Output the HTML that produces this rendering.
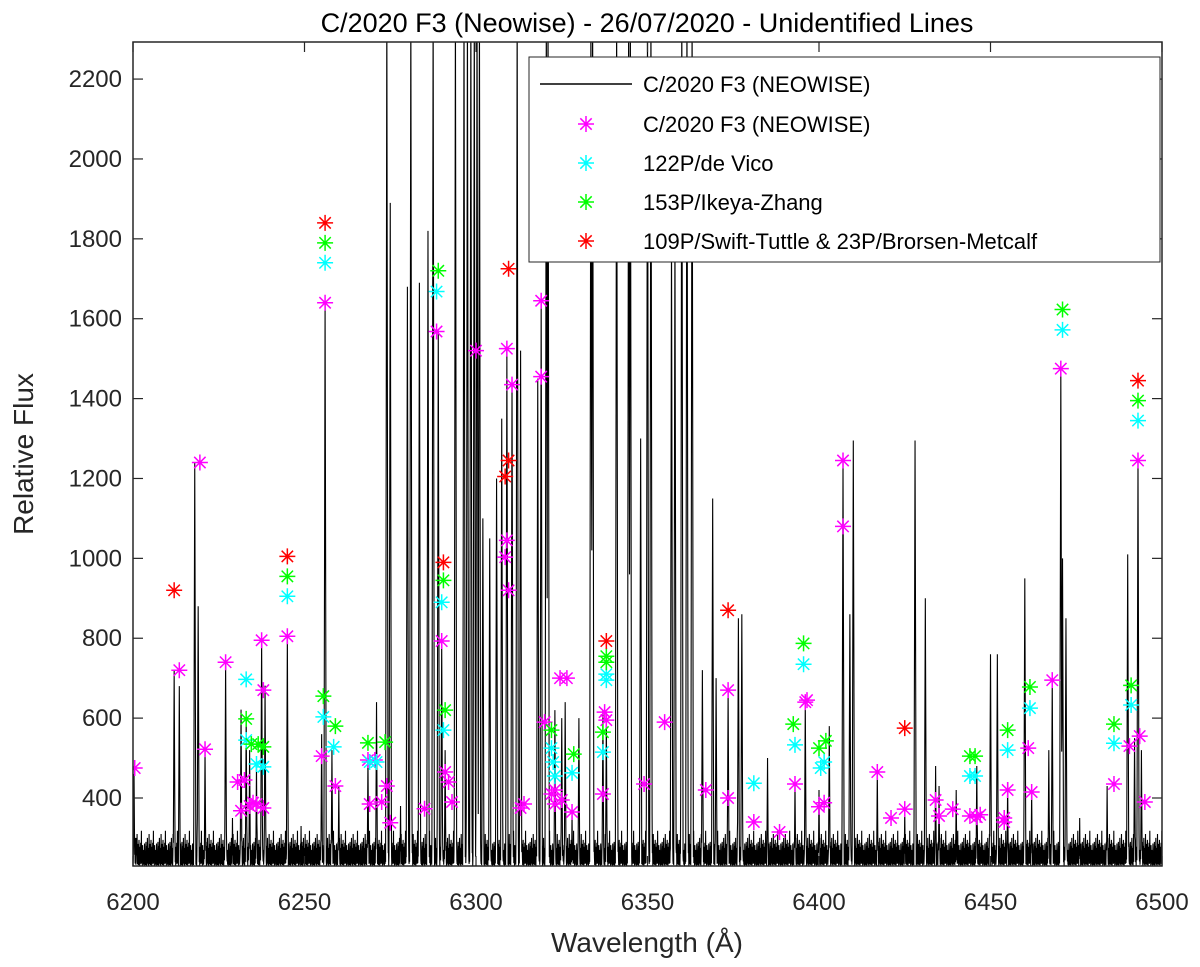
<!DOCTYPE html>
<html><head><meta charset="utf-8"><style>
body{margin:0;background:#fff}
svg{display:block;font-family:"Liberation Sans",sans-serif}
</style></head><body>
<svg id="chart" width="1200" height="967" viewBox="0 0 1200 967" xmlns="http://www.w3.org/2000/svg">
<rect x="0" y="0" width="1200" height="967" fill="#fff"/>
<text x="647" y="32" font-size="27" text-anchor="middle" fill="#000">C/2020 F3 (Neowise) - 26/07/2020 - Unidentified Lines</text>
<clipPath id="clip"><rect x="133" y="42" width="1029" height="824"/></clipPath>
<g id="spec" clip-path="url(#clip)"></g>
<g id="marks" clip-path="url(#clip)"></g>
<rect x="133" y="42" width="1029" height="824" fill="none" stroke="#262626" stroke-width="1.5"/>
<g id="axes"></g>
<text x="647" y="952" font-size="28" text-anchor="middle" fill="#262626">Wavelength (Å)</text>
<text transform="translate(33,454) rotate(-90)" font-size="28" text-anchor="middle" fill="#262626">Relative Flux</text>
<g>
<rect x="529" y="57" width="631" height="205" fill="#fff" stroke="#262626" stroke-width="1"/>
<line x1="540" y1="84" x2="632" y2="84" stroke="#000" stroke-width="1.5"/>
<text x="643" y="92" font-size="22" fill="#000">C/2020 F3 (NEOWISE)</text>
<g id="leg"></g>
<text x="643" y="132" font-size="22" fill="#000">C/2020 F3 (NEOWISE)</text>
<text x="643" y="171" font-size="22" fill="#000">122P/de Vico</text>
<text x="643" y="210" font-size="22" fill="#000">153P/Ikeya-Zhang</text>
<text x="643" y="249" font-size="22" fill="#000">109P/Swift-Tuttle &amp; 23P/Brorsen-Metcalf</text>
</g>
</svg>
<script>
const xTicks=[6200,6250,6300,6350,6400,6450,6500];
const yTicks=[400,600,800,1000,1200,1400,1600,1800,2000,2200];
const peakWl=[6200.3,6201,6212,6213.5,6218,6219,6221,6227,6229,6231.5,6233,6234,6236,6237.5,6238.5,6245,6249,6255,6256,6258,6260,6268.5,6271,6274,6275,6278,6280,6281,6283.5,6286,6287.5,6289,6290,6291,6294,6296.5,6297.5,6298.5,6299.5,6300.3,6301,6302,6304,6306,6307.5,6309,6310.5,6312,6313,6318,6319,6320.5,6321,6323,6325,6326,6328,6330,6333.5,6334,6337,6338,6341,6344.5,6345,6348,6350,6351,6357,6358,6360,6361.5,6363,6366,6369,6370,6373.5,6376.5,6377.5,6385,6393,6396,6400,6403,6407,6409,6410,6417,6425,6428,6431,6434,6435,6440,6446,6450,6452,6455,6460,6462,6467,6468,6470.5,6471,6472,6476,6484,6490,6492,6493,6494];
const peakFlux=[460,300,720,680,1240,880,520,740,350,620,600,520,480,800,680,805,330,560,1640,520,430,500,640,2400,1890,380,1680,2400,1690,1820,2400,1570,790,520,2400,2400,2400,2400,2400,2400,2400,1100,1050,1200,1350,1525,1435,2400,1520,1450,1645,2400,2400,620,600,640,360,600,2400,2400,620,595,2400,2400,2400,1300,2400,2400,1820,1830,2400,2400,2400,720,1150,700,670,850,860,500,440,645,420,580,1245,860,1295,470,372,1295,900,480,430,420,480,760,760,440,950,420,520,700,1475,1000,850,350,430,1010,550,1245,520];
const noise=[235,252,232,268,290,240,230,258,280,236,300,248,233,262,275,231,256,310,240,234,265,285,250,232,272,295,239,253,230,278,260,244,288,235,252,318,237,266,246,231,282,255,241,270,233,247,262,229,286,243];
const magWl=[6200.5,6213.5,6219.5,6221,6227,6230.5,6231.5,6232.5,6234,6235,6236,6237.5,6238,6238,6245,6255,6256,6259,6268.5,6269,6270.5,6272.5,6274,6275,6285,6288.5,6290,6291,6292,6293,6300,6308.5,6309,6309,6309.5,6310.5,6313,6314,6319,6319,6320,6322,6323,6323,6324.5,6325,6326.5,6328,6337,6337.5,6338,6349,6355,6367,6373.5,6373.5,6381,6388.5,6393,6396,6396.5,6400,6401.5,6407,6407,6417,6421,6425,6434,6435,6439,6444,6446,6447,6454,6454,6455,6461,6462,6468,6470.5,6486,6490.5,6493,6493.5,6495];
const magFlux=[475,720,1240,522,740,440,368,445,380,388,385,795,670,375,805,505,1640,430,495,385,495,390,430,338,373,1568,793,465,440,390,1520,1003,1045,1525,920,1435,375,385,1645,1455,590,410,420,385,700,395,700,365,410,615,595,435,590,420,670,400,340,315,435,640,645,378,388,1245,1080,465,350,372,395,355,372,355,352,358,350,340,420,525,415,695,1475,435,530,1245,555,390];
const cyanWl=[6233,6233,6236,6238,6245,6255.5,6256,6258.5,6269,6271,6288.5,6290,6290.5,6322,6322.5,6323,6328,6337,6338,6338,6381,6393,6395.5,6400.5,6401.5,6444,6445.5,6455,6461.5,6471,6486,6491,6493];
const cyanFlux=[697,545,485,478,905,603,1740,528,490,490,1668,890,570,525,490,455,463,515,710,695,437,533,735,475,490,455,455,520,625,1572,537,633,1345];
const greenWl=[6233,6234.5,6236.5,6238,6245,6255.5,6256,6259,6268.5,6273.5,6289,6290.5,6291,6322,6328.5,6337,6338,6338,6392.5,6395.5,6400,6402,6444,6445.5,6455,6461.5,6471,6486,6491,6493];
const greenFlux=[598,535,535,528,955,655,1790,580,538,540,1720,945,620,570,510,565,755,740,585,787,525,543,505,505,570,678,1623,585,682,1395];
const redWl=[6212,6245,6256,6290.5,6309.5,6309.5,6308.5,6338,6373.5,6425,6493];
const redFlux=[920,1005,1840,990,1725,1245,1205,793,870,575,1445];

const X0=133,X1=1162,Y0=866,Y1=42;
const xs=w=>X0+(w-6200)/300*(X1-X0);
const ys=f=>798-(f-400)*0.3994;
const NS="http://www.w3.org/2000/svg";
function mk(t,a,p){const e=document.createElementNS(NS,t);for(const k in a)e.setAttribute(k,a[k]);p.appendChild(e);return e;}

const spec=document.getElementById('spec');
const samples=[];
let n=0;
for(let w=6200;w<=6500.001;w+=0.07,n++)samples.push([w,noise[n%noise.length]]);
peakWl.forEach(w=>samples.push([w,0]));
samples.sort((a,b)=>a[0]-b[0]);
let d="";
samples.forEach((s,i)=>{
  const w=s[0];let v=s[1]||245;
  for(let k=0;k<peakWl.length;k++){
    const dd=Math.abs(w-peakWl[k]);
    if(dd<0.4){const c=peakFlux[k]*(1-dd/0.4);if(c>v)v=c;}
  }
  d+=(i?"L":"M")+xs(w).toFixed(2)+","+ys(v).toFixed(2);
});
const sp=mk('path',{d:d,fill:'none',stroke:'#000','stroke-width':1.1},spec);



function star(cx,cy,col,p,name){
  const r=8,q=5.7;
  const g=mk('path',{d:`M${cx-r},${cy}H${cx+r}M${cx},${cy-r}V${cy+r}M${cx-q},${cy-q}L${cx+q},${cy+q}M${cx-q},${cy+q}L${cx+q},${cy-q}`,stroke:col,'stroke-width':1.5,fill:'none'},p);
  
  
}
const marks=document.getElementById('marks');
magWl.forEach((w,k)=>star(xs(w),ys(magFlux[k]),'#ff00ff',marks,'neowise-marker'));
cyanWl.forEach((w,k)=>star(xs(w),ys(cyanFlux[k]),'#00ffff',marks,'devico-marker'));
greenWl.forEach((w,k)=>star(xs(w),ys(greenFlux[k]),'#00ff00',marks,'ikeya-marker'));
redWl.forEach((w,k)=>star(xs(w),ys(redFlux[k]),'#ff0000',marks,'swift-marker'));
const leg=document.getElementById('leg');
star(586,124,'#ff00ff',leg,'legend-marker-neowise');
star(586,163,'#00ffff',leg,'legend-marker-devico');
star(586,202,'#00ff00',leg,'legend-marker-ikeya');
star(586,241,'#ff0000',leg,'legend-marker-swift');

const ax=document.getElementById('axes');
xTicks.forEach(t=>{
  const x=xs(t);
  mk('line',{x1:x,y1:Y0,x2:x,y2:Y0-10,stroke:'#262626','stroke-width':1.2},ax);
  mk('line',{x1:x,y1:Y1,x2:x,y2:Y1+10,stroke:'#262626','stroke-width':1.2},ax);
  const tx=mk('text',{x:x,y:910,'font-size':24,'text-anchor':'middle',fill:'#262626'},ax);
  tx.textContent=t;
  
  
});
yTicks.forEach(t=>{
  const y=ys(t);
  mk('line',{x1:X0,y1:y,x2:X0+10,y2:y,stroke:'#262626','stroke-width':1.2},ax);
  mk('line',{x1:X1,y1:y,x2:X1-10,y2:y,stroke:'#262626','stroke-width':1.2},ax);
  const tx=mk('text',{x:122,y:y+8,'font-size':24,'text-anchor':'end',fill:'#262626'},ax);
  tx.textContent=t;
  
  
});
</script>
</body></html>
